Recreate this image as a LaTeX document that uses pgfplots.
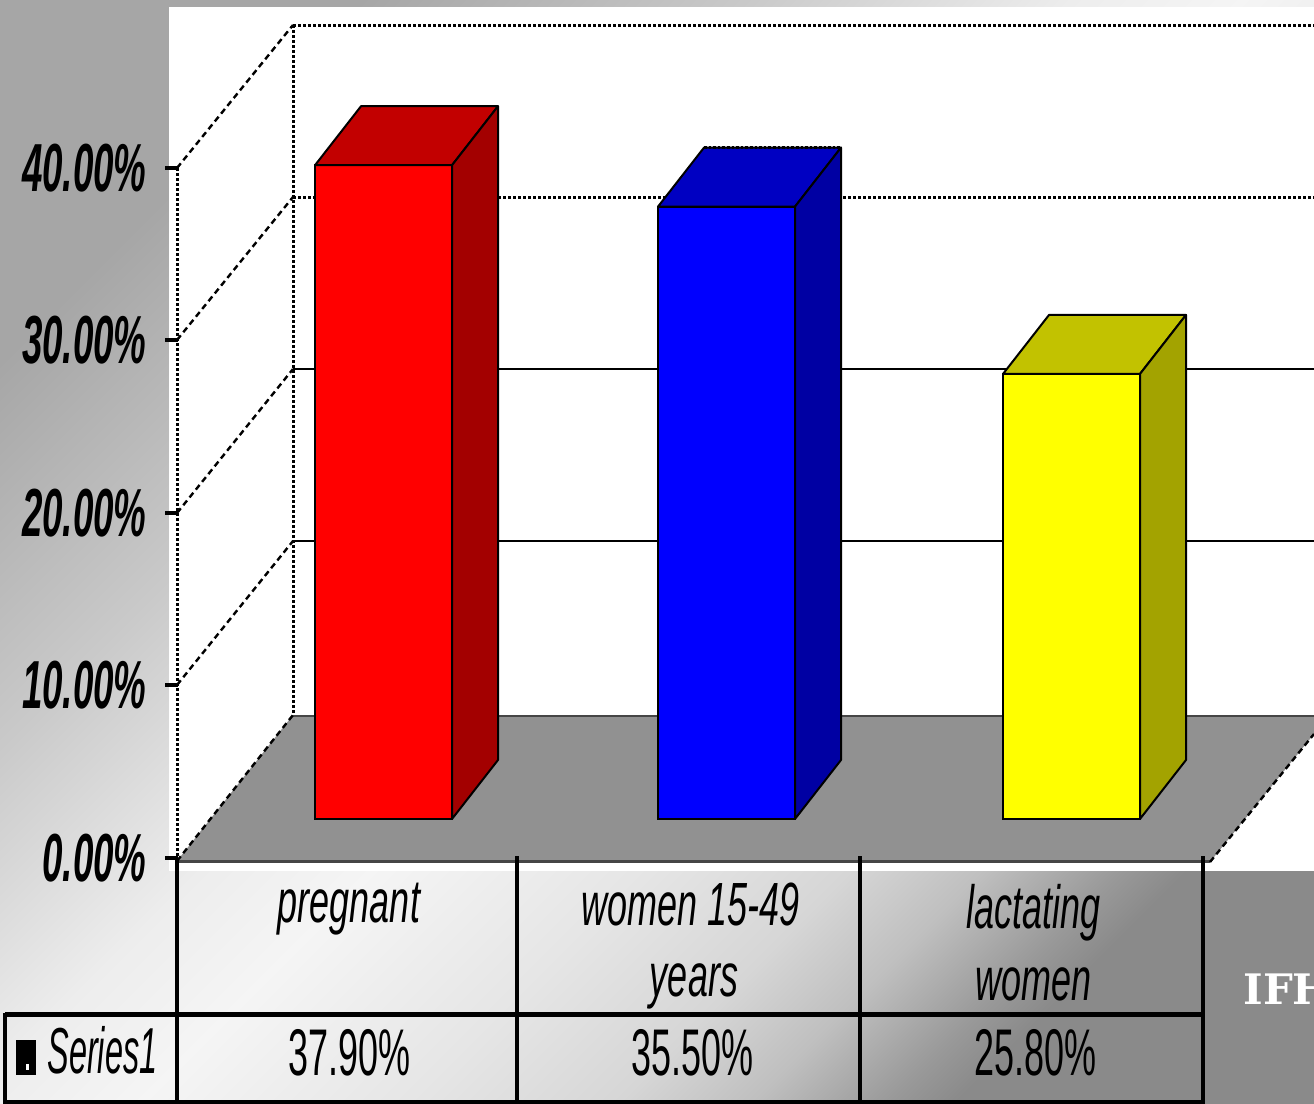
\documentclass[border=0pt]{standalone}
\usepackage{pgfplots}
\pgfplotsset{compat=1.18}
\usepackage{pgfplotstable}
\usepackage{fontspec}
\setmainfont{Liberation Sans}
\newfontfamily\tickfont[FakeStretch=0.54]{Liberation Sans}
\newfontfamily\catfont[FakeStretch=0.59]{Liberation Sans}
\newfontfamily\valfont[FakeStretch=0.545]{Liberation Sans}
\newfontfamily\serfont[FakeStretch=0.5]{Liberation Sans}
\newfontfamily\logofont{DejaVu Serif}

\definecolor{redfront}{RGB}{255,0,0}
\definecolor{redtop}{RGB}{194,0,0}
\definecolor{redside}{RGB}{163,0,0}
\definecolor{bluefront}{RGB}{0,0,255}
\definecolor{bluetop}{RGB}{0,0,194}
\definecolor{blueside}{RGB}{0,0,163}
\definecolor{yelfront}{RGB}{255,255,0}
\definecolor{yeltop}{RGB}{194,194,0}
\definecolor{yelside}{RGB}{163,163,0}
\definecolor{floorgray}{RGB}{145,145,145}
\definecolor{flooredge}{RGB}{70,70,70}

% slide background: dark corners top left and bottom right, light band between
\pgfdeclarehorizontalshading{slidebg}{100bp}{%
  rgb(0bp)=(0.65,0.65,0.65); rgb(25bp)=(0.65,0.65,0.65);
  rgb(36.5bp)=(0.79,0.79,0.79); rgb(46bp)=(0.93,0.93,0.93);
  rgb(51bp)=(0.96,0.96,0.96); rgb(59bp)=(0.90,0.90,0.90);
  rgb(65bp)=(0.84,0.84,0.84); rgb(69bp)=(0.75,0.75,0.75);
  rgb(73bp)=(0.60,0.60,0.60); rgb(75bp)=(0.54,0.54,0.54);
  rgb(100bp)=(0.54,0.54,0.54)}

% left edge of each bar's front face (layout units) and its value (%)
\pgfplotstableread{
left value
315  37.9
658  35.5
1003 25.8
}\bardata

% one layout unit = 0.5pt; one percent = 17.25 units
\pgfplotsset{
  layer/.style={scale only axis, width=657pt, height=552pt,
    at={(0,0)}, anchor=south west, hide axis, xmin=0, xmax=1314, no markers},
  px/.style={layer, ymin=0, ymax=1104, y dir=reverse},
}

% top and side faces of a bar: row, top colour, side colour, back-edge style
\newcommand\barbody[4]{%
  \pgfplotstablegetelem{#1}{left}\of\bardata \let\xl\pgfplotsretval
  \pgfplotstablegetelem{#1}{value}\of\bardata \let\yv\pgfplotsretval
  \pgfmathsetmacro\xr{\xl+137}%
  \pgfmathsetmacro\xlb{\xl+46}%
  \pgfmathsetmacro\xrb{\xl+183}%
  \pgfmathsetmacro\yvb{\yv+3.42}%
  \edef\doit{%
    \noexpand\addplot[fill=#2, draw=black, line width=1pt, line join=round]
      coordinates {(\xl,\yv) (\xlb,\yvb) (\xrb,\yvb) (\xr,\yv)} -- cycle;
    \noexpand\addplot[fill=#3, draw=black, line width=1pt, line join=round]
      coordinates {(\xr,0) (\xr,\yv) (\xrb,\yvb) (\xrb,3.42)} -- cycle;
    \noexpand\addplot[black, line width=1.3pt, #4]
      coordinates {(\xlb,\yvb) (\xrb,\yvb) (\xrb,3.42)};
  }\doit
}

\begin{document}
\begin{tikzpicture}
\shade[shading=slidebg, shading angle=-45] (0,0) rectangle (657pt,552pt);

\begin{axis}[px]
  % chart area
  \addplot[fill=white, draw=none] coordinates {(169,7) (1314,7) (1314,871) (169,871)} -- cycle;
  % back wall
  \addplot[black, line width=1.3pt] coordinates {(293,369) (1314,369)};
  \addplot[black, line width=1.3pt] coordinates {(293,541) (1314,541)};
  \addplot[black, line width=1.5pt, densely dotted] coordinates {(293,197) (1314,197)};
  \addplot[black, line width=1.5pt, densely dotted] coordinates {(293,25) (1314,25)};
  \addplot[black, line width=1.5pt, densely dotted] coordinates {(293,25) (293,715)};
  % side wall
  \addplot[black, line width=1.5pt, densely dotted] coordinates {(177,168) (177,858)};
  \addplot[black, line width=1.2pt, densely dashed] coordinates {(177,168) (293,25)};
  \addplot[black, line width=1.2pt, densely dashed] coordinates {(177,340) (293,197)};
  \addplot[black, line width=1.2pt, densely dashed] coordinates {(177,513) (293,369)};
  \addplot[black, line width=1.2pt, densely dashed] coordinates {(177,685) (293,541)};
  % floor
  \addplot[fill=floorgray, draw=none] coordinates {(177,861) (293,715) (1314,715) (1314,734) (1210,862)} -- cycle;
  \addplot[flooredge, line width=1.2pt] coordinates {(293,716) (1314,716)};
  \addplot[flooredge, line width=1.5pt] coordinates {(177,861) (1210,861)};
  \addplot[black, line width=1.2pt, densely dashed] coordinates {(177,861) (293,715)};
  \addplot[black, line width=1.2pt, densely dashed] coordinates {(1210,862) (1314,734)};
  % tick marks
  \pgfplotsinvokeforeach{858,685,513,340,168}{
    \addplot[black, line width=2pt] coordinates {(165,#1) (178,#1)};
  }
  % data table
  \addplot[black, line width=1.6pt] coordinates {(177,858) (177,1104)};
  \addplot[black, line width=1.6pt] coordinates {(517,856) (517,1104)};
  \addplot[black, line width=1.6pt] coordinates {(860,856) (860,1104)};
  \addplot[black, line width=1.6pt] coordinates {(1203,856) (1203,1104)};
  \addplot[black, line width=2.5pt] coordinates {(5,1014) (1204,1014)};
  \addplot[black, line width=1.6pt] coordinates {(5,1013) (5,1104)};
  \addplot[black, line width=1.6pt] coordinates {(5,1102) (1204,1102)};
  % legend key
  \addplot[fill=black, draw=black, line width=0.5pt] coordinates {(16,1040) (35,1040) (35,1074) (16,1074)} -- cycle;
  \addplot[fill=white, draw=none] coordinates {(26,1064) (29,1064) (29,1070) (26,1070)} -- cycle;

  % value axis labels
  \begin{scope}[every node/.style={anchor=east, inner sep=0pt,
      font=\tickfont\bfseries\itshape\fontsize{34}{40}\selectfont}]
    \node at (axis cs:147,858) {0.00\%};
    \node at (axis cs:147,685) {10.00\%};
    \node at (axis cs:147,513) {20.00\%};
    \node at (axis cs:147,340) {30.00\%};
    \node at (axis cs:147,168) {40.00\%};
  \end{scope}
  % category names
  \begin{scope}[every node/.style={anchor=base, inner sep=0pt,
      font=\catfont\itshape\fontsize{30.5}{36}\selectfont}]
    \node at (axis cs:349,922) {pregnant};
    \node at (axis cs:691,925) {women 15-49};
    \node at (axis cs:694,996) {years};
    \node at (axis cs:1034,928) {lactating};
    \node at (axis cs:1034,1000) {women};
  \end{scope}
  % values row
  \begin{scope}[every node/.style={anchor=base, inner sep=0pt,
      font=\valfont\fontsize{33}{38}\selectfont}]
    \node at (axis cs:349,1075) {37.90\%};
    \node at (axis cs:692,1075) {35.50\%};
    \node at (axis cs:1035,1075) {25.80\%};
  \end{scope}
  \node[anchor=base west, inner sep=0pt, font=\serfont\itshape\fontsize{32.5}{38}\selectfont]
    at (axis cs:47,1073) {Series1};
  \node[anchor=base west, inner sep=0pt, text=white, font=\logofont\bfseries\fontsize{21}{24}\selectfont]
    at (axis cs:1243,1004) {IFH};
\end{axis}

\begin{axis}[layer, ymin=-16.522, ymax=47.478]
  \addplot[ybar, bar width=137, bar shift=0pt, fill=redfront, draw=black, line width=1pt,
    skip coords between index={1}{3}]
    table[x expr=\thisrow{left}+68.5, y=value] {\bardata};
  \barbody{0}{redtop}{redside}{draw=none}
  \addplot[ybar, bar width=137, bar shift=0pt, fill=bluefront, draw=black, line width=1pt,
    skip coords between index={0}{1}, skip coords between index={2}{3}]
    table[x expr=\thisrow{left}+68.5, y=value] {\bardata};
  \barbody{1}{bluetop}{blueside}{densely dotted}
  \addplot[ybar, bar width=137, bar shift=0pt, fill=yelfront, draw=black, line width=1pt,
    skip coords between index={0}{2}]
    table[x expr=\thisrow{left}+68.5, y=value] {\bardata};
  \barbody{2}{yeltop}{yelside}{densely dotted}
\end{axis}

\pgfresetboundingbox
\useasboundingbox (0,0) rectangle (657pt,552pt);
\end{tikzpicture}
\end{document}
